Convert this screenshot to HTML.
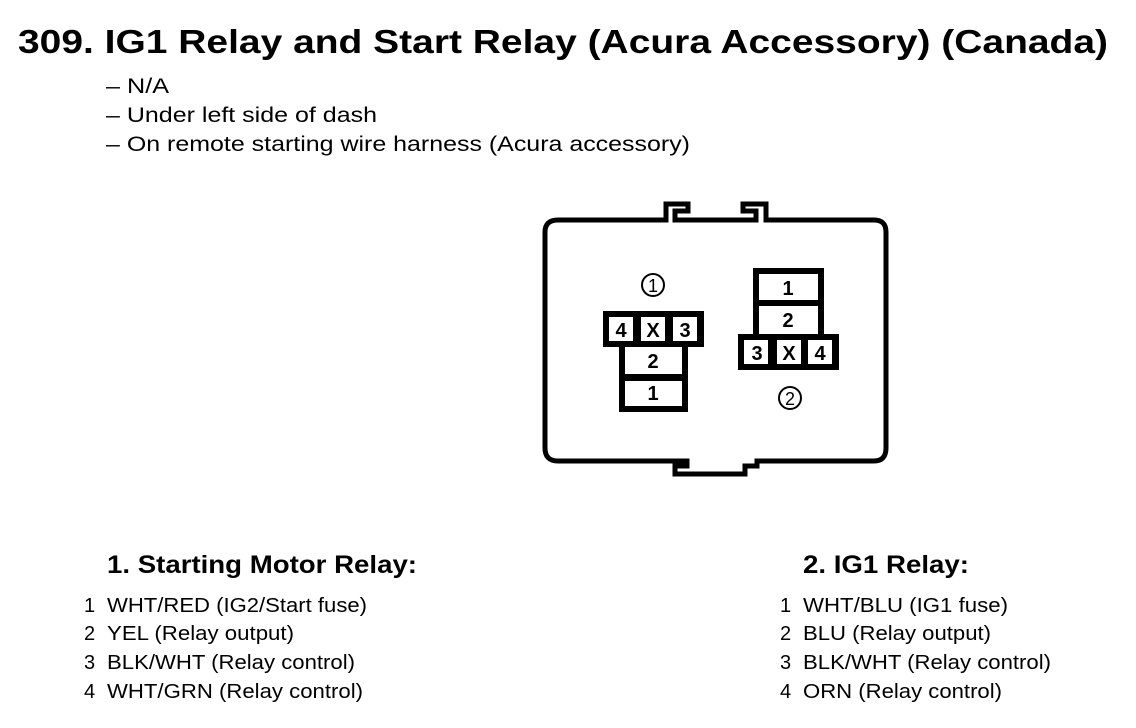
<!DOCTYPE html>
<html><head><meta charset="utf-8"><style>
html,body{margin:0;padding:0;background:#fff;width:1136px;height:728px;overflow:hidden}
svg{display:block}
text{font-family:"Liberation Sans",Arial,sans-serif;fill:#000}
.b{font-weight:bold}
</style></head><body>
<svg width="1136" height="728" viewBox="0 0 1136 728" xmlns="http://www.w3.org/2000/svg">
<text x="18" y="53" class="b" font-size="33" textLength="1090" lengthAdjust="spacingAndGlyphs">309. IG1 Relay and Start Relay (Acura Accessory) (Canada)</text>
<text x="106" y="93" font-size="21" textLength="63" lengthAdjust="spacingAndGlyphs">– N/A</text>
<text x="106" y="122" font-size="21" textLength="271" lengthAdjust="spacingAndGlyphs">– Under left side of dash</text>
<text x="106" y="151" font-size="21" textLength="584" lengthAdjust="spacingAndGlyphs">– On remote starting wire harness (Acura accessory)</text>

<g fill="none" stroke="#000" stroke-width="5" stroke-linejoin="miter">
<path d="M558 220 L666 220 L666 204 L688 204 L688 211 L675 211 L675 220 L756 220 L756 211 L743 211 L743 204 L766 204 L766 220 L874 220 Q886 220 886 232 L886 448 Q886 461 874 461 L757 461 L757 466 L745 466 L745 474 L675 474 L675 466 L687 466 L687 461 L558 461 Q545 461 545 448 L545 232 Q545 220 558 220 Z"/>
</g>

<!-- connector 1 -->
<rect x="603" y="311" width="101" height="36" fill="#000"/>
<rect x="619" y="344" width="69" height="68" fill="#000"/>
<rect x="609" y="317" width="24" height="24" fill="#fff"/>
<rect x="641" y="317" width="24" height="24" fill="#fff"/>
<rect x="673" y="317" width="24" height="24" fill="#fff"/>
<rect x="625" y="347" width="57" height="27" fill="#fff"/>
<rect x="625" y="381" width="57" height="25" fill="#fff"/>
<g font-size="20" text-anchor="middle">
<text x="621" y="337" class="b">4</text><text x="653" y="337" class="b">X</text><text x="685" y="337" class="b">3</text>
<text x="653" y="368" class="b">2</text><text x="653" y="400" class="b">1</text>
</g>
<circle cx="653" cy="285" r="11" fill="none" stroke="#000" stroke-width="2"/>
<text x="653" y="292" font-size="18" text-anchor="middle">1</text>

<!-- connector 2 -->
<rect x="753" y="268" width="71" height="70" fill="#000"/>
<rect x="738" y="334" width="101" height="36" fill="#000"/>
<rect x="759" y="274" width="59" height="26" fill="#fff"/>
<rect x="759" y="306" width="59" height="28" fill="#fff"/>
<rect x="744" y="340" width="24" height="24" fill="#fff"/>
<rect x="777" y="340" width="24" height="24" fill="#fff"/>
<rect x="808" y="340" width="24" height="24" fill="#fff"/>
<g font-size="20" text-anchor="middle">
<text x="788" y="295" class="b">1</text><text x="788" y="327" class="b">2</text>
<text x="757" y="360" class="b">3</text><text x="789" y="360" class="b">X</text><text x="820" y="360" class="b">4</text>
</g>
<circle cx="790" cy="398" r="11" fill="none" stroke="#000" stroke-width="2"/>
<text x="790" y="405" font-size="18" text-anchor="middle">2</text>

<text x="107" y="573" class="b" font-size="25" textLength="310" lengthAdjust="spacingAndGlyphs">1. Starting Motor Relay:</text>
<g font-size="20">
<text x="84" y="612">1</text><text x="107" y="612" textLength="260" lengthAdjust="spacingAndGlyphs">WHT/RED (IG2/Start fuse)</text>
<text x="84" y="640">2</text><text x="107" y="640" textLength="187" lengthAdjust="spacingAndGlyphs">YEL (Relay output)</text>
<text x="84" y="669">3</text><text x="107" y="669" textLength="248" lengthAdjust="spacingAndGlyphs">BLK/WHT (Relay control)</text>
<text x="84" y="698">4</text><text x="107" y="698" textLength="256" lengthAdjust="spacingAndGlyphs">WHT/GRN (Relay control)</text>
</g>

<text x="803" y="573" class="b" font-size="25" textLength="166" lengthAdjust="spacingAndGlyphs">2. IG1 Relay:</text>
<g font-size="20">
<text x="780" y="612">1</text><text x="803" y="612" textLength="205" lengthAdjust="spacingAndGlyphs">WHT/BLU (IG1 fuse)</text>
<text x="780" y="640">2</text><text x="803" y="640" textLength="188" lengthAdjust="spacingAndGlyphs">BLU (Relay output)</text>
<text x="780" y="669">3</text><text x="803" y="669" textLength="248" lengthAdjust="spacingAndGlyphs">BLK/WHT (Relay control)</text>
<text x="780" y="698">4</text><text x="803" y="698" textLength="199" lengthAdjust="spacingAndGlyphs">ORN (Relay control)</text>
</g>
</svg>
</body></html>
